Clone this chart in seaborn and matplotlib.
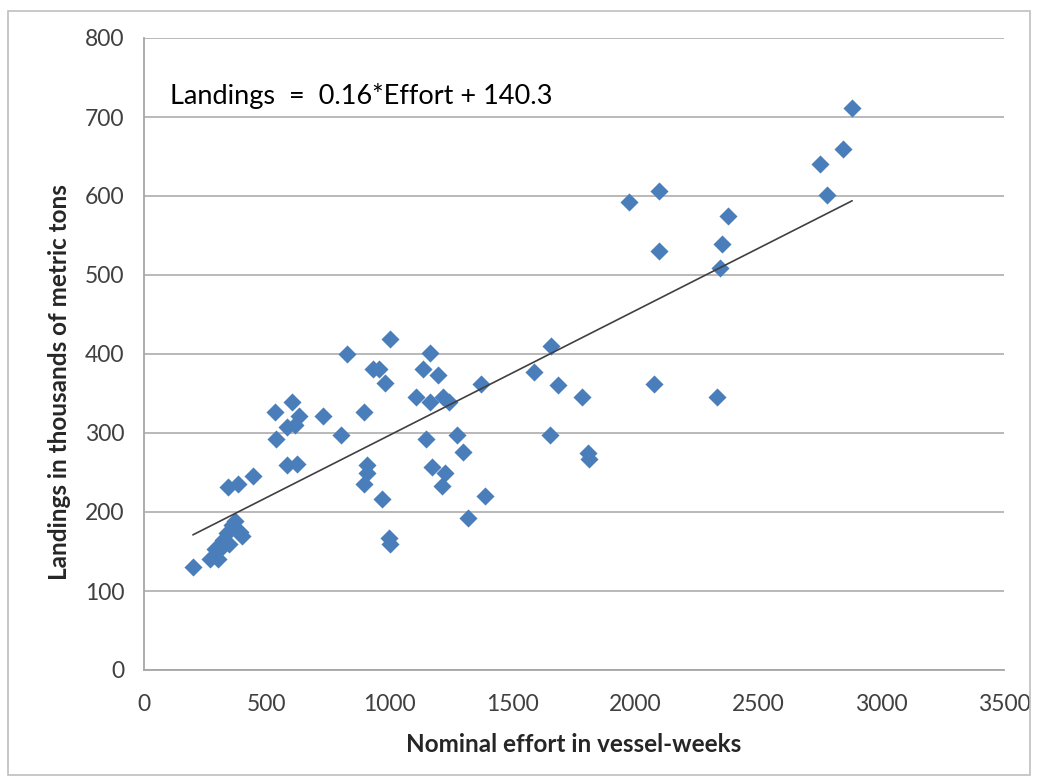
import numpy as np
import pandas as pd
import matplotlib
matplotlib.use("Agg")
import matplotlib.pyplot as plt
import seaborn as sns
from matplotlib.patches import Rectangle

effort = [199, 269, 289, 301, 317, 322, 338, 345, 342, 358,
          370, 383, 391, 399, 444, 533, 537, 580, 582, 602,
          615, 623, 631, 729, 802, 826, 895, 897, 906, 908,
          932, 958, 969, 979, 997, 1001, 1001, 1105, 1136, 1148,
          1164, 1164, 1172, 1197, 1213, 1217, 1225, 1241, 1274, 1298,
          1319, 1372, 1388, 1587, 1652, 1658, 1685, 1783, 1807, 1811,
          1974, 2076, 2096, 2096, 2332, 2344, 2352, 2375, 2751, 2780,
          2845, 2882]
landings = [130, 140, 153, 140, 156, 165, 174, 160, 232, 184,
            188, 235, 175, 169, 245, 326, 293, 260, 307, 339,
            310, 261, 322, 322, 298, 400, 235, 326, 250, 260,
            381, 381, 216, 363, 167, 419, 159, 346, 381, 293,
            401, 339, 257, 374, 233, 346, 250, 339, 297, 276,
            193, 362, 220, 377, 298, 410, 361, 346, 275, 267,
            593, 362, 606, 530, 346, 509, 539, 575, 640, 601,
            659, 712]

x_ticks = [0, 500, 1000, 1500, 2000, 2500, 3000, 3500]
y_ticks = [0, 100, 200, 300, 400, 500, 600, 700, 800]
equation_text = "Landings  =  0.16*Effort + 140.3"
x_label = "Nominal effort in vessel-weeks"
y_label = "Landings in thousands of metric tons"

df = pd.DataFrame({"effort": effort, "landings": landings})

sns.set_style("white")
plt.rcParams["font.family"] = ["Lato", "DejaVu Sans"]

fig = plt.figure(figsize=(10.42, 7.8), dpi=100)
ax = fig.add_axes([144 / 1042, 1 - 670 / 780, 860 / 1042, 632 / 780])

# outer chart frame
fig.patches.append(Rectangle((8 / 1042, 1 - 775 / 780), 1022 / 1042, 764 / 780,
                             transform=fig.transFigure, fill=False,
                             edgecolor="#bfbfbf", linewidth=1.2))

sns.scatterplot(data=df, x="effort", y="landings", marker="D", s=85,
                color="#4a7ebb", linewidth=0, ax=ax, zorder=3)

coef = np.polyfit(df["effort"], df["landings"], 1)
xl = np.array([df["effort"].min(), df["effort"].max()])
sns.lineplot(x=xl, y=np.polyval(coef, xl), color="#404040", linewidth=1.2,
             ax=ax, zorder=4)

ax.set_xlim(0, 3500)
ax.set_ylim(0, 800)
ax.set_xticks(x_ticks)
ax.set_yticks(y_ticks)
ax.yaxis.grid(True, color="#b3b3b3", linewidth=1.3)
ax.xaxis.grid(False)
ax.set_axisbelow(True)

for side in ["top", "right"]:
    ax.spines[side].set_visible(False)
for side in ["left", "bottom"]:
    ax.spines[side].set_color("#a6a6a6")
    ax.spines[side].set_linewidth(1.3)

ax.tick_params(axis="both", labelsize=16.5, colors="#404040", labelcolor="#404040")
ax.tick_params(axis="x", direction="out", length=8, width=1.2, color="#a6a6a6", pad=9)
ax.tick_params(axis="y", direction="out", length=7, width=1.2, color="#a6a6a6", pad=7)

ax.set_xlabel(x_label, fontsize=17.5, fontweight="bold", color="#262626")
ax.set_ylabel(y_label, fontsize=17.5, fontweight="bold", color="#262626")
ax.xaxis.set_label_coords(0.5, -75 / 632)
ax.xaxis.label.set_verticalalignment("center")
ax.yaxis.set_label_coords(-84 / 860, 0.456)
ax.yaxis.label.set_verticalalignment("center")

ax.text(106, 726, equation_text, fontsize=19.5, color="black",
        ha="left", va="center")

fig.savefig("out.png", dpi=100, facecolor="white")
